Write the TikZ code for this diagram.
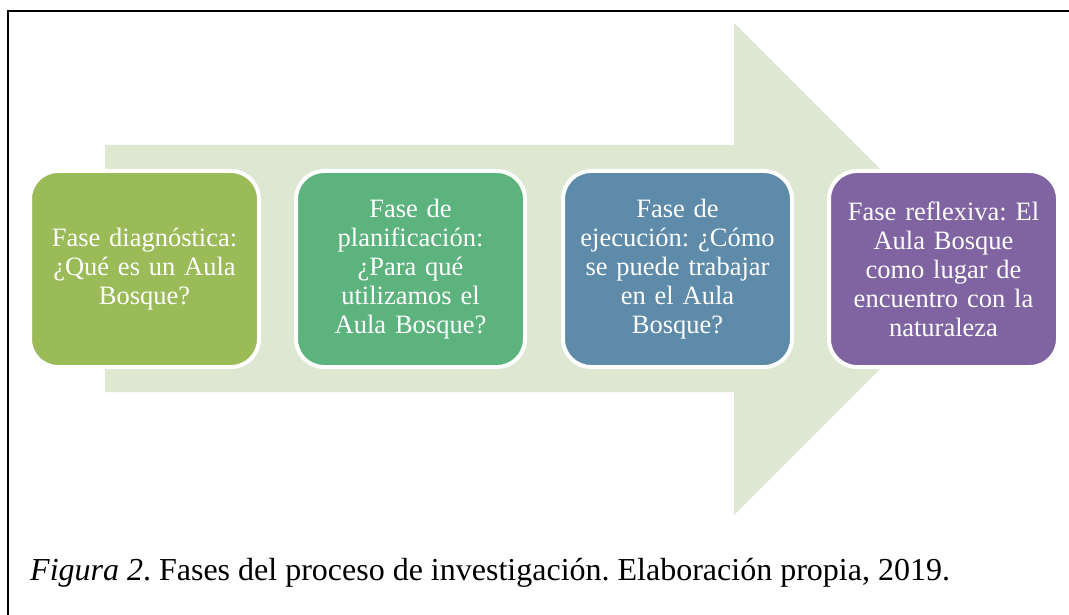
\documentclass[tikz,border=0pt]{standalone}
\usepackage{fontspec}
\setmainfont{Liberation Serif}
\frenchspacing
\definecolor{arrowfill}{HTML}{DEE7D1}
\definecolor{cA}{HTML}{9BBB59}
\definecolor{cB}{HTML}{5DB37D}
\definecolor{cC}{HTML}{5E8BAA}
\definecolor{cD}{HTML}{8064A2}
\tikzset{
  phase/.style={draw=white, line width=4pt, rounded corners=28pt,
    minimum width=229pt, minimum height=196pt, inner sep=0pt,
    text=white, align=center, text width=215pt,
    font=\fontsize{26.5}{29}\selectfont},
}
\begin{document}
\begin{tikzpicture}[x=1pt,y=-1pt]
\useasboundingbox (0,0) rectangle (1069,615);
\fill[white] (0,0) rectangle (1069,615);
\draw[line width=2pt] (8,620) -- (8,11) -- (1075,11);
\fill[arrowfill] (105,145) -- (734,145) -- (734,23) -- (980,269) -- (734,515) -- (734,392) -- (105,392) -- cycle;
\node[phase, fill=cA] (b1) at (144.5,269) {Fase diagnóstica:\\¿Qué es un Aula\\Bosque?};
\node[phase, fill=cB] (b2) at (410.5,269) {Fase de\\planificación:\\¿Para qué\\utilizamos el\\Aula Bosque?};
\node[phase, fill=cC] (b3) at (677.5,269) {Fase de\\ejecución: ¿Cómo\\se puede trabajar\\en el Aula\\Bosque?};
\node[phase, fill=cD] (b4) at (943.5,269) {Fase reflexiva: El\\Aula Bosque\\como lugar de\\encuentro con la\\naturaleza};
\node[anchor=base west, inner sep=0pt, font=\fontsize{32}{38}\selectfont] (cap) at (30,580) {\textit{Figura 2}. Fases del proceso de investigación. Elaboración propia, 2019.};
\end{tikzpicture}
\end{document}
